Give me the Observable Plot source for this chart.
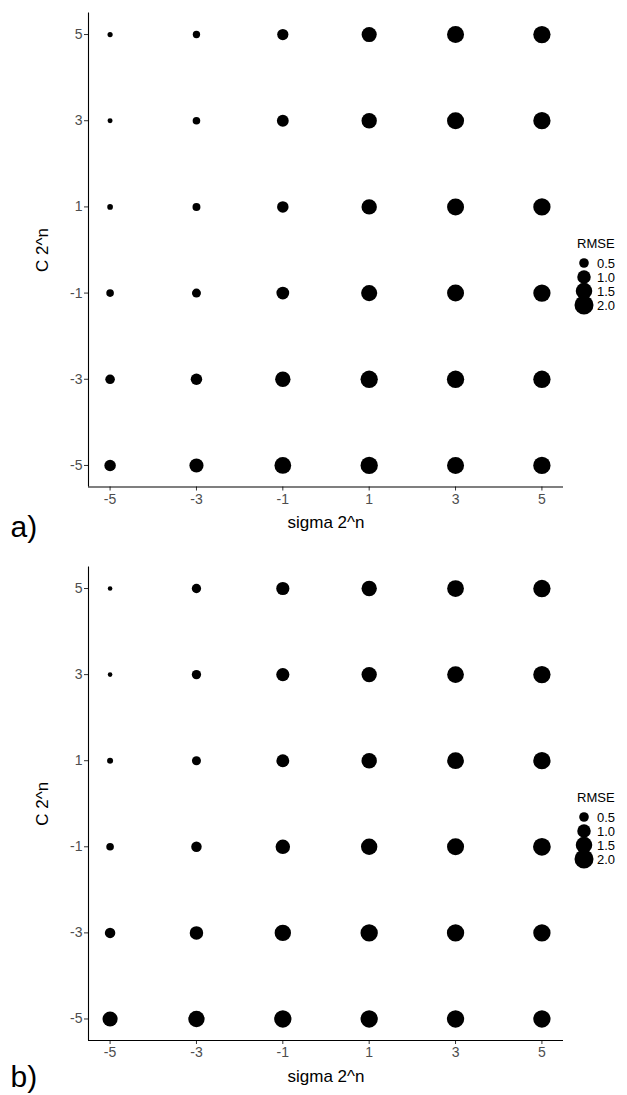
<!DOCTYPE html>
<html>
<head>
<meta charset="utf-8">
<script src="https://cdn.jsdelivr.net/npm/d3@7"></script>
<script src="https://cdn.jsdelivr.net/npm/@observablehq/plot@0.6"></script>
<style>
  html, body { margin: 0; padding: 0; background: #fff; }
  #chart { width: 627px; }
  svg { display: block; }
</style>
</head>
<body>
<div id="chart"></div>
<script>
// Grid of tuning parameters (log2 scale)
const sigmaValues = [-5, -3, -1, 1, 3, 5];
const cValues = [5, 3, 1, -1, -3, -5];
const tickLabels = ["-5", "-3", "-1", "1", "3", "5"];
const rmseBreaks = [0.5, 1.0, 1.5, 2.0];
const rmseBreakLabels = ["0.5", "1.0", "1.5", "2.0"];
const panelLabels = ["a)", "b)"];

// RMSE per row (C = 5, 3, 1, -1, -3, -5), columns sigma = -5 .. 5
const rmsePanelA = [
  [0.14, 0.29, 0.69, 1.26, 1.60, 1.65],
  [0.13, 0.31, 0.77, 1.30, 1.60, 1.65],
  [0.17, 0.34, 0.72, 1.30, 1.60, 1.65],
  [0.31, 0.44, 0.90, 1.43, 1.60, 1.66],
  [0.50, 0.72, 1.30, 1.66, 1.66, 1.66],
  [0.72, 1.10, 1.55, 1.66, 1.60, 1.66]
];
const rmsePanelB = [
  [0.11, 0.47, 0.95, 1.30, 1.55, 1.66],
  [0.11, 0.47, 0.95, 1.30, 1.55, 1.66],
  [0.19, 0.44, 0.91, 1.30, 1.55, 1.66],
  [0.31, 0.60, 1.15, 1.48, 1.60, 1.74],
  [0.60, 1.00, 1.48, 1.66, 1.66, 1.66],
  [1.26, 1.48, 1.66, 1.66, 1.66, 1.66]
];

function toRows(matrix) {
  const rows = [];
  cValues.forEach((c, i) => sigmaValues.forEach((s, j) => rows.push({sigma: s, C: c, rmse: matrix[i][j]})));
  return rows;
}

const FONT = "'Liberation Sans', Arial, sans-serif";
const tickFmt = d => tickLabels[sigmaValues.indexOf(d)];

function panel(matrix, label, height, marginBottom, labelDy) {
  const data = toRows(matrix);
  const plot = Plot.plot({
    width: 627,
    height,
    marginLeft: 88,
    marginRight: 64,
    marginTop: 12.5,
    marginBottom,
    style: {fontFamily: FONT, fontSize: "14px", background: "#fff", overflow: "visible"},
    x: {domain: [-5.5, 5.5]},
    y: {domain: [-5.5, 5.5]},
    r: {type: "sqrt", domain: [0.1, 2.0], range: [2.2, 9.5]},
    marks: [
      Plot.axisX(sigmaValues, {tickSize: 4, tickPadding: 3, tickFormat: tickFmt, fontSize: 14, fill: "#4d4d4d", stroke: "#333", label: null}),
      Plot.axisY(sigmaValues, {tickSize: 4, tickPadding: 2, tickFormat: tickFmt, fontSize: 14, fill: "#4d4d4d", stroke: "#333", label: null}),
      Plot.ruleX([-5.5], {stroke: "#000", strokeWidth: 1.1}),
      Plot.ruleY([-5.5], {stroke: "#000", strokeWidth: 1.1}),
      Plot.dot(data, {x: "sigma", y: "C", r: "rmse", fill: "#000", stroke: null}),
      Plot.text(["sigma 2^n"], {frameAnchor: "bottom", dy: 36, fontSize: 17, fill: "#000", lineAnchor: "middle"}),
      Plot.text(["C 2^n"], {frameAnchor: "left", dx: -46, rotate: -90, fontSize: 17, fill: "#000", lineAnchor: "middle", textAnchor: "middle"}),
      Plot.text([label], {frameAnchor: "bottom-left", dx: -78, dy: labelDy, fontSize: 30, fill: "#000", textAnchor: "start", lineAnchor: "middle"})
    ]
  });
  // Size legend built from the plot's own r scale
  const rScale = plot.scale("r");
  const svg = d3.select(plot);
  const g = svg.append("g").attr("font-family", FONT).attr("font-size", "13px").attr("text-anchor", "start");
  const keyX = 584, labelX = 597;
  g.append("text").attr("x", 577).attr("y", 243).attr("dy", "0.35em").attr("fill", "#000").text("RMSE");
  const keyY = [263, 277, 291, 305];
  rmseBreaks.forEach((b, i) => {
    g.append("circle").attr("cx", keyX).attr("cy", keyY[i]).attr("r", rScale.apply(b)).attr("fill", "#000");
    g.append("text").attr("x", labelX).attr("y", keyY[i]).attr("dy", "0.35em").attr("fill", "#000").text(rmseBreakLabels[i]);
  });
  return plot;
}

const chart = document.getElementById("chart");
chart.appendChild(panel(rmsePanelA, panelLabels[0], 554, 67.5, 40));
chart.appendChild(panel(rmsePanelB, panelLabels[1], 541, 55, 37));
</script>
</body>
</html>
